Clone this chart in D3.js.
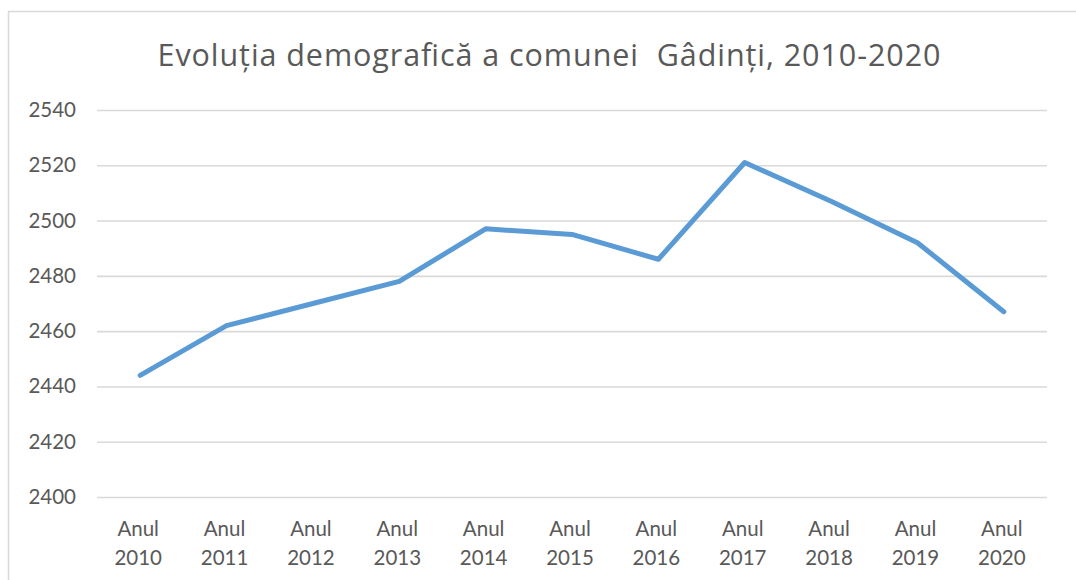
<!DOCTYPE html>
<html>
<head>
<meta charset="utf-8">
<script src="https://cdn.jsdelivr.net/npm/d3@7"></script>
<style>
  body { margin: 0; background: #fff; }
  svg { display: block; font-family: Lato, "Open Sans", sans-serif; }
</style>
</head>
<body>
<div id="vis-container"></div>
<script>
/* CHART */

const title = "Evoluția demografică a comunei  Gâdinți, 2010-2020";
const years = ["2010", "2011", "2012", "2013", "2014", "2015", "2016", "2017", "2018", "2019", "2020"];
const population = [2444, 2462, 2470, 2478, 2497, 2495, 2486, 2521, 2507, 2492, 2467];
const yTicks = [2400, 2420, 2440, 2460, 2480, 2500, 2520, 2540];

let width = 1076,
	height = 580,
	margin = {top: 110, right: 29, bottom: 83, left: 97},
	dWidth = width - margin.left - margin.right,
	dHeight = height - margin.top - margin.bottom;

let svg = d3.select('#vis-container')
	.append('svg')
	.attr('width', width)
	.attr('height', height);

// chart frame
svg.append("rect")
	.attr("x", 8.5).attr("y", 11.5)
	.attr("width", width + 10).attr("height", height + 10)
	.attr("fill", "#fff")
	.attr("stroke", "#d9d9d9")
	.attr("stroke-width", 1.5);

svg.append("text")
	.attr("x", 549)
	.attr("y", 66)
	.attr("text-anchor", "middle")
	.attr("fill", "#595959")
	.attr("font-size", 30.5)
	.attr("font-family", "'Open Sans', Lato, sans-serif")
	.attr("textLength", 783)
	.attr("lengthAdjust", "spacing")
	.style("white-space", "pre")
	.text(title);

let x = d3.scaleBand().domain(years).range([0, dWidth]);
let y = d3.scaleLinear().domain([2400, 2540]).range([dHeight, 0]);

let g = svg.append("g").attr("transform", `translate(${margin.left},${margin.top})`);

// gridlines + y labels
let yAxis = g.append("g")
	.call(d3.axisLeft(y).tickValues(yTicks).tickSize(-dWidth).tickPadding(21).tickFormat(d3.format("d")));
yAxis.select(".domain").remove();
yAxis.selectAll(".tick line").attr("stroke", "#d9d9d9").attr("stroke-width", 1.6);
yAxis.selectAll(".tick text")
	.attr("fill", "#595959")
	.attr("font-size", 20.5)
	.attr("font-family", "Lato, 'Open Sans', sans-serif");

// x labels, two lines
let xAxis = g.append("g")
	.attr("transform", "translate(0," + dHeight + ")")
	.call(d3.axisBottom(x).tickSize(0).tickFormat(""));
xAxis.select(".domain").remove();
xAxis.selectAll(".tick").each(function(d) {
	let t = d3.select(this).append("text")
		.attr("fill", "#595959")
		.attr("font-size", 20.5)
		.attr("text-anchor", "middle")
		.attr("font-family", "Lato, 'Open Sans', sans-serif");
	t.append("tspan").attr("x", -2).attr("y", 39).text("Anul");
	t.append("tspan").attr("x", -2).attr("y", 68).text(d);
});

let line = d3.line()
	.x((d, i) => x(years[i]) + x.bandwidth() / 2)
	.y(d => y(d));

g.append("path")
	.datum(population)
	.attr("fill", "none")
	.attr("stroke", "#5b9bd5")
	.attr("stroke-linejoin", "round")
	.attr("stroke-linecap", "round")
	.attr("stroke-width", 5)
	.attr("d", line);
</script>
</body>
</html>
